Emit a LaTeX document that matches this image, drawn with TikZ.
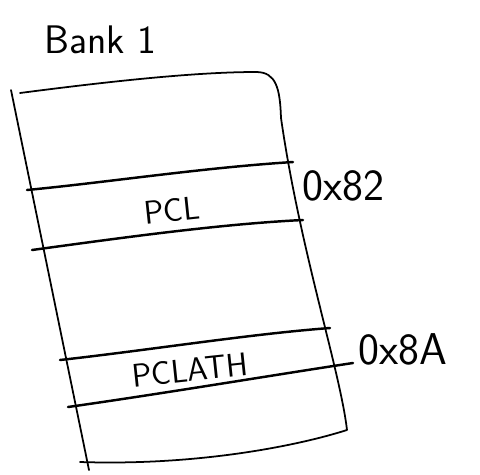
\documentclass[tikz,border=0pt]{standalone}
\usepackage{tikz}
\usetikzlibrary{positioning}

\begin{document}
\begin{tikzpicture}[
x=0.03cm,
y=-0.03cm,
every node/.style={font=\sffamily\fontsize{34}{38}\selectfont,inner sep=0pt},
outline/.style={line width=1.5pt,line cap=round,line join=round},
rowline/.style={line width=2.1pt,line cap=round},
reg/.style={rotate=6,font=\sffamily\fontsize{28}{32}\selectfont},
addr/.style={anchor=west,font=\sffamily\fontsize{38}{42}\selectfont}
]
\useasboundingbox (0,0) rectangle (480,474);

% bank outline
\draw[outline] (11,90) -- (89,470);
\draw[outline] (20,93) .. controls (120,80) and (200,72) .. (256,72)
  .. controls (276,72) and (280,88) .. (281,118)
  .. controls (300,250) and (340,370) .. (347,430)
  .. controls (300,445) and (200,466) .. (80,462);

% register rows
\draw[rowline] (27,190) .. controls (110,182) and (200,168) .. (293,162);
\draw[rowline] (32,250) .. controls (120,238) and (220,224) .. (303,220);
\draw[rowline] (60,360) .. controls (150,350) and (250,334) .. (330,328);
\draw[rowline] (68,407) .. controls (160,394) and (280,374) .. (353,363);

\node (bank) at (100,40) {Bank 1};
\node[reg] (pcl) at (172,210) {PCL};
\node[reg] (pclath) at (190,370) {PCLATH};
\node[addr] (pcladdr) at (302,186) {0x82};
\node[addr] (pclathaddr) at (358,349) {0x8A};
\end{tikzpicture}
\end{document}
